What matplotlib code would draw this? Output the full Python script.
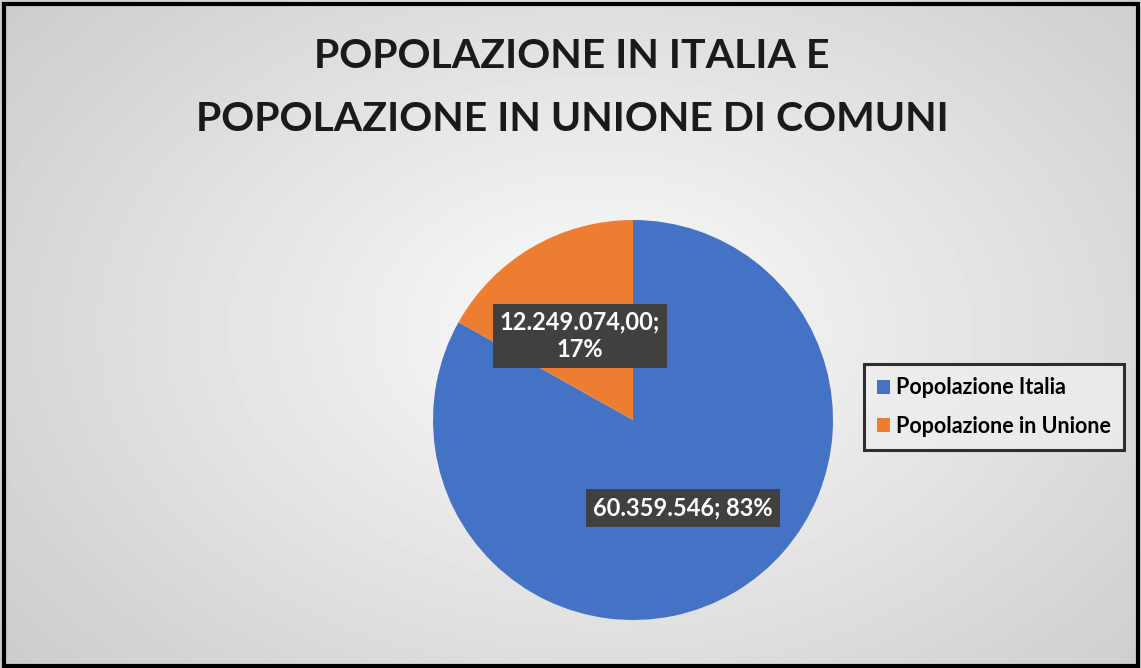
import numpy as np
import matplotlib
matplotlib.use("Agg")
import matplotlib.pyplot as plt
from matplotlib.patches import Rectangle

categories = ["Popolazione Italia", "Popolazione in Unione"]
values = [60359546, 12249074]
label_texts = ["60.359.546; 83%", "12.249.074,00;\n17%"]
colors = ["#4472C4", "#ED7D31"]
title = "POPOLAZIONE IN ITALIA E\nPOPOLAZIONE IN UNIONE DI COMUNI"

W, H = 1141, 668
fig = plt.figure(figsize=(W / 100, H / 100), dpi=100)

# radial gradient background
bg = fig.add_axes([0, 0, 1, 1])
yy, xx = np.mgrid[0:H, 0:W]
cx, cy = 600, 330
r = np.sqrt(((xx - cx) / 700.0) ** 2 + ((yy - cy) / 480.0) ** 2)
val = 0.985 - 0.17 * np.clip(r, 0, 1.2)
bg.imshow(val, cmap="gray", vmin=0, vmax=1, extent=[0, W, H, 0], aspect="auto")
bg.set_xlim(0, W)
bg.set_ylim(H, 0)
bg.axis("off")
bg.add_patch(Rectangle((4, 4), W - 7, H - 6, fill=False, edgecolor="black", linewidth=3))

# title
fig.text(572 / W, 1 - 88 / H, title, ha="center", va="center", fontsize=29.5,
         fontweight="bold", family="Lato", color="#1a1a1a", linespacing=1.85)

# pie
R = 200
pcx, pcy = 633, 420
ax = fig.add_axes([(pcx - R) / W, 1 - (pcy + R) / H, 2 * R / W, 2 * R / H])
wedges, _ = ax.pie(values, colors=colors, startangle=90, counterclock=False,
                   radius=1, wedgeprops=dict(linewidth=0))
ax.set_xlim(-1, 1)
ax.set_ylim(-1, 1)
ax.set_aspect("auto")

label_pos = [(0.25, -0.44), (-0.265, 0.42)]
for (lx, ly), t in zip(label_pos, label_texts):
    ax.text(lx, ly, t, ha="center", va="center", fontsize=17, fontweight="bold",
            family="Lato", color="white", linespacing=1.25,
            bbox=dict(boxstyle="square,pad=0.3", facecolor="#404040", edgecolor="none"))

# legend
leg = fig.legend(wedges, categories, loc="center", bbox_to_anchor=(994 / W, 1 - 407 / H),
                 frameon=True, fancybox=False, handlelength=0.6, handleheight=0.6,
                 handletextpad=0.3, labelspacing=0.8, borderpad=0.6, borderaxespad=0,
                 prop=dict(family="Lato", weight="bold", size=15.5))
leg.get_frame().set_edgecolor("black")
leg.get_frame().set_linewidth(2.2)
leg.get_frame().set_facecolor("#eeeeee")

fig.savefig("out.png", dpi=100)
